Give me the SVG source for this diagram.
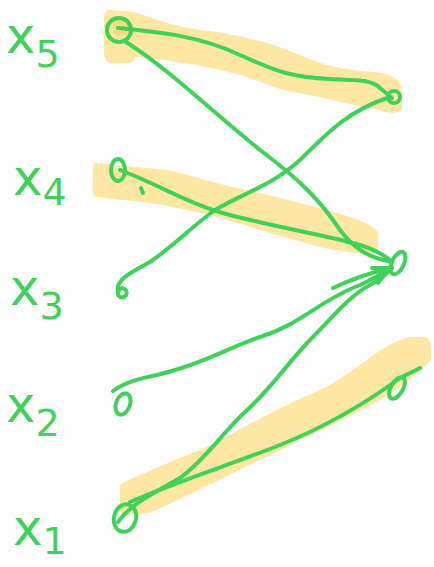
<svg xmlns="http://www.w3.org/2000/svg" width="434" height="567" viewBox="0 0 434 567">
<style>
.hl{fill:#fde7a3;stroke:none}
.g{fill:none;stroke:#3fd15a;stroke-width:4;stroke-linecap:round;stroke-linejoin:round}
.lbl{font-family:"DejaVu Sans",sans-serif;fill:#3fd15a;font-size:50px}
.sub{font-size:38px}
</style>
<rect width="434" height="567" fill="#fdfdfd"/>
<g id="highlights">
<path class="hl" d="M110,10 L133,12 C145,15 155,20 167,23 C185,28 200,30 217,32 C240,36 255,40 267,43 C290,50 305,58 317,62 C340,70 365,71 383,73 C395,76 402,82 402,92 L402,108 C400,114 390,114 380,110 C360,106 345,103 333,100 C315,96 300,93 283,90 C265,84 250,77 233,73 C215,69 200,65 183,63 C165,60 150,58 137,57 L135,57 C135,62 130,63 125,63 L112,63 C106,63 104,58 104,52 L104,18 C104,12 106,10 110,10 Z"/>
<path class="hl" d="M95,163 L167,170 C190,175 210,182 233,187 C255,192 280,198 300,203 C320,208 335,212 350,217 C362,221 372,225 378,232 L378,253 C370,256 350,252 333,250 C315,246 300,241 283,237 C260,230 240,223 217,217 C195,211 170,206 150,203 L97,197 C94,197 93,194 93,190 L93,168 C93,165 94,163 95,163 Z"/>
<path class="hl" d="M123,483 C150,470 175,460 200,450 C230,436 255,420 283,407 C300,398 318,392 333,383 C345,376 355,368 367,360 C380,350 395,340 410,337 L426,337 C430,340 431,345 431,350 L431,360 C420,372 400,390 367,407 C345,418 322,430 300,440 C278,452 255,462 233,473 C205,487 178,500 150,513 L125,515 C121,515 120,512 120,508 L120,488 C120,485 121,484 123,483 Z"/>
<rect x="113" y="18" width="16" height="18" rx="6" fill="#fcd97a"/>
</g>
<g id="x5">
<text class="lbl" x="6" y="53">x<tspan class="sub" dy="14">5</tspan></text>
<circle class="g" cx="119" cy="30" r="12"/>
</g>
<g id="x4">
<text class="lbl" x="13" y="195">x<tspan class="sub" dy="10">4</tspan></text>
<ellipse class="g" cx="118" cy="170" rx="7" ry="11"/>
<path class="g" d="M141,188 L143,193"/>
</g>
<g id="x3">
<text class="lbl" x="10" y="305">x<tspan class="sub" dy="14">3</tspan></text>
<path class="g" d="M118,290 C125,285 130,293 124,297 C118,299 115,292 122,288"/>
</g>
<g id="x2">
<text class="lbl" x="6" y="422">x<tspan class="sub" dy="14">2</tspan></text>
<ellipse class="g" cx="123" cy="404" rx="7" ry="11" transform="rotate(20 123 404)"/>
</g>
<g id="x1">
<text class="lbl" x="13" y="545">x<tspan class="sub" dy="9">1</tspan></text>
<ellipse class="g" cx="125" cy="518" rx="11" ry="14" transform="rotate(15 125 518)"/>
</g>
<g id="r1">
<circle class="g" cx="394" cy="97" r="6"/>
</g>
<g id="r2">
<ellipse class="g" cx="398" cy="263" rx="6" ry="12" transform="rotate(25 398 263)"/>
</g>
<g id="r3">
<ellipse class="g" cx="397" cy="388" rx="6" ry="12" transform="rotate(30 397 388)"/>
</g>
<g id="connectors">
<path class="g" d="M118,28 C160,32 200,36 240,55 C270,68 285,77 330,79 C360,80 372,80 380,88 L392,98"/>
<path class="g" d="M126,42 C170,70 210,110 260,150 C300,180 320,200 340,230 C355,250 370,258 392,262"/>
<path class="g" d="M120,170 C160,185 190,205 230,215 C280,228 330,236 360,245 C375,250 385,255 392,262"/>
<path class="g" d="M118,292 C115,280 130,273 150,262 C175,245 190,228 215,210 C245,192 270,187 300,160 C330,130 350,110 390,97"/>
<path class="g" d="M113,391 C130,378 150,378 175,370 C210,360 235,345 260,337 C300,325 320,300 360,285 C375,278 385,272 392,267"/>
<path class="g" d="M118,522 C130,505 150,495 180,478 C205,460 225,430 245,412 C270,390 290,360 310,340 C330,320 350,295 370,285 C380,280 386,274 392,268"/>
<path class="g" d="M333,288 C350,280 365,274 390,268 M372,268 L390,268 L378,283"/>
<path class="g" d="M130,502 C180,480 230,465 280,445 C330,425 370,400 400,378 L420,368"/>
</g>
</svg>
